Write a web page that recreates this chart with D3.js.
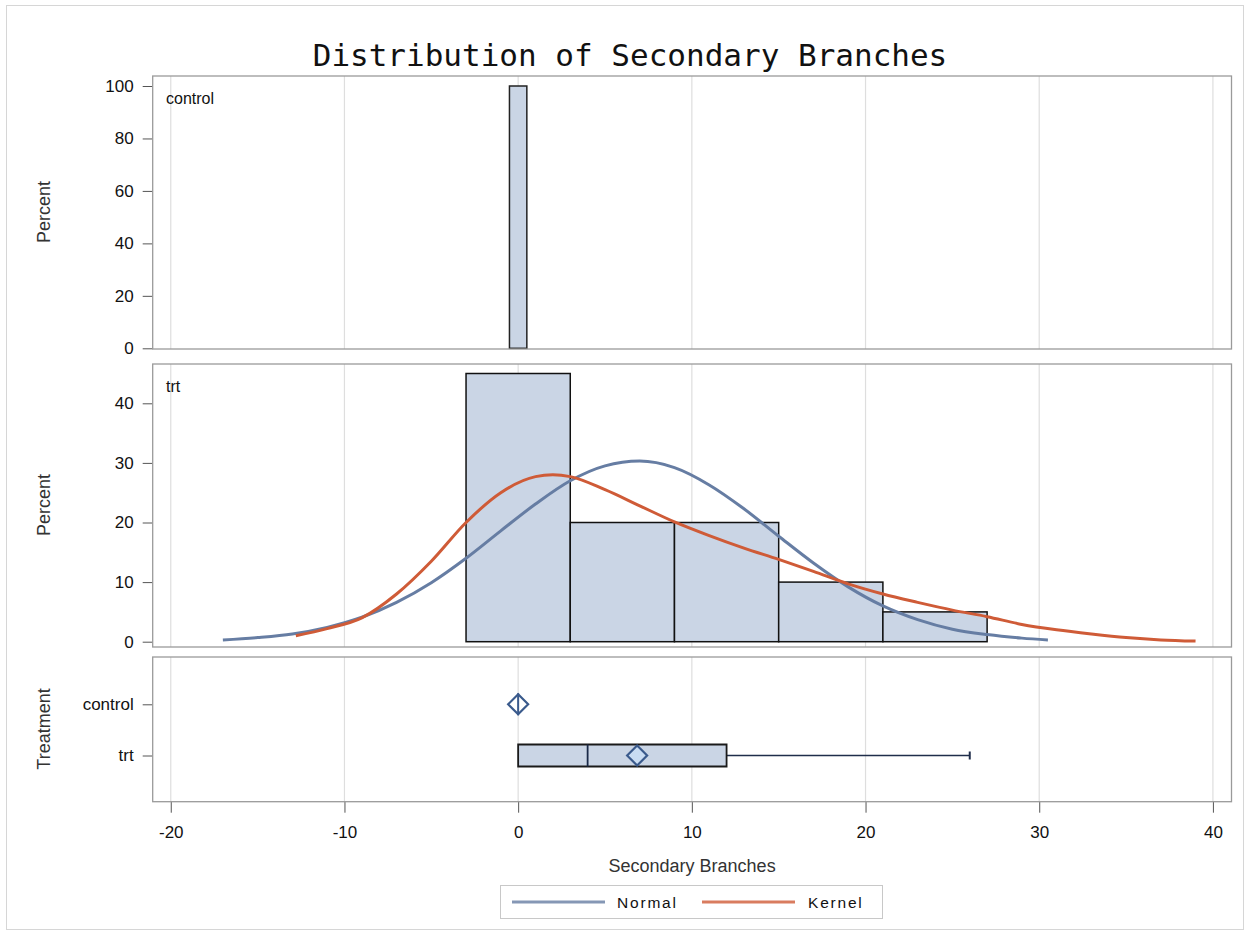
<!DOCTYPE html>
<html>
<head>
<meta charset="utf-8">
<script src="https://cdn.jsdelivr.net/npm/d3@7"></script>
<style>
  body { margin: 0; background: #fff; }
  svg text { font-family: "Liberation Sans", Arial, sans-serif; }
</style>
</head>
<body>
<div class="chart-wrapper"></div>
<script>
// ---- data ----
const xTicks = [-20, -10, 0, 10, 20, 30, 40];
const topTicks = [0, 20, 40, 60, 80, 100];
const midTicks = [0, 10, 20, 30, 40];

// control histogram (bin width 1)
const controlMid = [0];
const controlPct = [100];

// trt histogram (bin width 6)
const trtMid = [0, 6, 12, 18, 24];
const trtPct = [45, 20, 20, 10, 5];

// fitted normal curve
const normalX = [-17, -15, -13, -11, -9, -7, -5, -3, -1, 1, 3, 5, 7, 9, 11, 13, 15, 17, 19, 21, 23, 25, 27, 29, 30.5];
const normalY = [0.3, 0.7, 1.3, 2.4, 4.1, 6.6, 9.9, 14.0, 18.6, 23.1, 27.0, 29.5, 30.3, 29.2, 26.3, 22.3, 17.7, 13.2, 9.2, 6.0, 3.7, 2.1, 1.2, 0.6, 0.3];

// kernel density curve
const kernelX = [-12.8, -11, -9, -7, -5, -3, -1, 1, 2, 3, 5, 7, 9, 11, 13, 15, 17, 19, 21, 23, 25, 27, 29, 31, 33, 35, 37, 39];
const kernelY = [1.0, 2.2, 4.0, 8.0, 13.5, 20.0, 25.0, 27.7, 28.0, 27.7, 25.5, 22.8, 20.1, 17.8, 15.7, 13.8, 11.8, 9.7, 8.0, 6.6, 5.3, 4.2, 2.9, 2.0, 1.3, 0.7, 0.3, 0.1];

// box plot stats
const groups = ['control', 'trt'];
const boxMin = [0, 0];
const boxQ1 = [0, 0];
const boxMed = [0, 4];
const boxQ3 = [0, 12];
const boxMax = [0, 26];
const boxMean = [0, 6.85];

const width = 1251, height = 937;
const left = 152.7, right = 1231.5;

const barFill = '#cad5e5';
const normalColor = '#667da3';
const kernelColor = '#cf5b37';
const gridColor = '#dedede';
const frameColor = '#9a9a9a';

const svg = d3.select('.chart-wrapper')
  .append('svg')
  .attr('width', width)
  .attr('height', height);

// outer frame
svg.append('rect')
  .attr('x', 6.5).attr('y', 5.5)
  .attr('width', 1237).attr('height', 924)
  .attr('fill', '#fff')
  .attr('stroke', '#d6d6d6');

svg.append('text')
  .attr('x', 630)
  .attr('y', 66)
  .attr('text-anchor', 'middle')
  .style('font-family', '"DejaVu Sans Mono", "Liberation Mono", monospace')
  .style('font-size', '31px')
  .attr('fill', '#111')
  .text('Distribution of Secondary Branches');

const x = d3.scaleLinear().domain([-21.04, 41.07]).range([left, right]);

const panels = [
  {top: 76, bottom: 349, label: 'control'},
  {top: 364, bottom: 647, label: 'trt'},
  {top: 657, bottom: 801.7, label: null}
];

// vertical grid in each panel
panels.forEach(p => {
  svg.append('g')
    .selectAll('line')
    .data(xTicks)
    .enter()
    .append('line')
    .attr('x1', d => x(d)).attr('x2', d => x(d))
    .attr('y1', p.top).attr('y2', p.bottom)
    .attr('stroke', gridColor)
    .attr('stroke-width', 1.2);
});

const yTop = d3.scaleLinear().domain([0, 100]).range([348.3, 86]);
const yMid = d3.scaleLinear().domain([0, 40]).range([641.7, 403.3]);
const yBox = d3.scalePoint().domain(groups).range([704.3, 755.5]);

const styleAxis = (g) => {
  g.select('.domain').remove();
  g.selectAll('.tick line').attr('stroke', '#555');
  g.selectAll('.tick text')
    .attr('fill', '#111')
    .style('font-size', '17px')
    .style('font-family', '"Liberation Sans", Arial, sans-serif');
};

const plain = d => String(d);

svg.append('g')
  .attr('transform', `translate(${left},0)`)
  .call(d3.axisLeft(yTop).tickValues(topTicks).tickFormat(plain).tickSize(10).tickPadding(9))
  .call(styleAxis);

svg.append('g')
  .attr('transform', `translate(${left},0)`)
  .call(d3.axisLeft(yMid).tickValues(midTicks).tickFormat(plain).tickSize(10).tickPadding(9))
  .call(styleAxis);

svg.append('g')
  .attr('transform', `translate(${left},0)`)
  .call(d3.axisLeft(yBox).tickSize(10).tickPadding(9))
  .call(styleAxis);

svg.append('g')
  .attr('transform', `translate(0,${panels[2].bottom})`)
  .call(d3.axisBottom(x).tickValues(xTicks).tickFormat(plain).tickSize(11).tickPadding(13))
  .call(styleAxis);

// top histogram
svg.append('g')
  .selectAll('rect')
  .data(controlMid)
  .enter()
  .append('rect')
  .attr('x', d => x(d - 0.5))
  .attr('width', d => x(d + 0.5) - x(d - 0.5))
  .attr('y', (d, i) => yTop(controlPct[i]))
  .attr('height', (d, i) => yTop(0) - yTop(controlPct[i]))
  .attr('fill', barFill)
  .attr('stroke', '#222')
  .attr('stroke-width', 1.5);

// trt histogram
svg.append('g')
  .selectAll('rect')
  .data(trtMid)
  .enter()
  .append('rect')
  .attr('x', d => x(d - 3))
  .attr('width', d => x(d + 3) - x(d - 3))
  .attr('y', (d, i) => yMid(trtPct[i]))
  .attr('height', (d, i) => yMid(0) - yMid(trtPct[i]))
  .attr('fill', barFill)
  .attr('stroke', '#111')
  .attr('stroke-width', 1.5);

const curve = d3.line()
  .x(d => x(d[0]))
  .y(d => yMid(d[1]))
  .curve(d3.curveMonotoneX);

svg.append('path')
  .datum(d3.zip(normalX, normalY))
  .attr('d', curve)
  .attr('fill', 'none')
  .attr('stroke', normalColor)
  .attr('stroke-width', 3);

svg.append('path')
  .datum(d3.zip(kernelX, kernelY))
  .attr('d', curve)
  .attr('fill', 'none')
  .attr('stroke', kernelColor)
  .attr('stroke-width', 3);

// box plots
const boxH = 22;
groups.forEach((g, i) => {
  const cy = yBox(g);
  const gg = svg.append('g');
  if (boxMax[i] > boxQ3[i]) {
    gg.append('line')
      .attr('x1', x(boxQ3[i])).attr('x2', x(boxMax[i]))
      .attr('y1', cy).attr('y2', cy)
      .attr('stroke', '#1f2d4a').attr('stroke-width', 1.5);
    gg.append('line')
      .attr('x1', x(boxMax[i])).attr('x2', x(boxMax[i]))
      .attr('y1', cy - 4).attr('y2', cy + 4)
      .attr('stroke', '#1f2d4a').attr('stroke-width', 2);
  }
  const x1 = x(boxQ1[i]), x2 = x(boxQ3[i]);
  gg.append('path')
    .attr('d', `M${x1},${cy - boxH / 2}H${x2}V${cy + boxH / 2}H${x1}Z`)
    .attr('fill', barFill)
    .attr('stroke', i === 0 ? '#3a5a8c' : '#1a1a1a')
    .attr('stroke-width', i === 0 ? 2 : 1.8);
  if (boxQ3[i] > boxQ1[i]) {
    gg.append('line')
      .attr('x1', x(boxMed[i])).attr('x2', x(boxMed[i]))
      .attr('y1', cy - boxH / 2).attr('y2', cy + boxH / 2)
      .attr('stroke', '#1a2a48').attr('stroke-width', 1.8);
  }
  const mx = x(boxMean[i]), r = 10;
  gg.append('path')
    .attr('d', `M${mx},${cy - r}L${mx + r},${cy}L${mx},${cy + r}L${mx - r},${cy}Z`)
    .attr('fill', i === 0 ? 'none' : '#c9dcf2')
    .attr('stroke', '#3a5a8c')
    .attr('stroke-width', 2.2);
});

// panel frames on top
panels.forEach(p => {
  svg.append('rect')
    .attr('x', left).attr('y', p.top)
    .attr('width', right - left).attr('height', p.bottom - p.top)
    .attr('fill', 'none')
    .attr('stroke', frameColor)
    .attr('stroke-width', 1.3);
  if (p.label) {
    svg.append('text')
      .attr('x', 166).attr('y', p.top + 28)
      .style('font-size', '16px')
      .attr('fill', '#111')
      .text(p.label);
  }
});

// axis titles
const yTitles = [
  {text: 'Percent', cy: 212},
  {text: 'Percent', cy: 505},
  {text: 'Treatment', cy: 729}
];
svg.selectAll('.ytitle')
  .data(yTitles)
  .enter()
  .append('text')
  .attr('class', 'ytitle')
  .attr('transform', d => `translate(50,${d.cy}) rotate(-90)`)
  .attr('text-anchor', 'middle')
  .style('font-size', '18px')
  .attr('fill', '#333')
  .text(d => d.text);

svg.append('text')
  .attr('x', (left + right) / 2)
  .attr('y', 872)
  .attr('text-anchor', 'middle')
  .style('font-size', '18px')
  .attr('fill', '#333')
  .text('Secondary Branches');

// legend
const legend = svg.append('g');
legend.append('rect')
  .attr('x', 500.5).attr('y', 885.5)
  .attr('width', 382).attr('height', 33)
  .attr('fill', '#fff')
  .attr('stroke', '#c8c8c8');

const legendItems = [
  {name: 'Normal', color: normalColor, x0: 512, x1: 605, tx: 617},
  {name: 'Kernel', color: kernelColor, x0: 702, x1: 795, tx: 808}
];
legendItems.forEach(d => {
  legend.append('line')
    .attr('x1', d.x0).attr('x2', d.x1)
    .attr('y1', 902).attr('y2', 902)
    .attr('stroke', d.color)
    .attr('stroke-opacity', 0.8)
    .attr('stroke-width', 3);
  legend.append('text')
    .attr('x', d.tx).attr('y', 907.5)
    .style('font-size', '15.5px')
    .style('letter-spacing', '1.8px')
    .attr('fill', '#111')
    .text(d.name);
});
</script>
</body>
</html>
